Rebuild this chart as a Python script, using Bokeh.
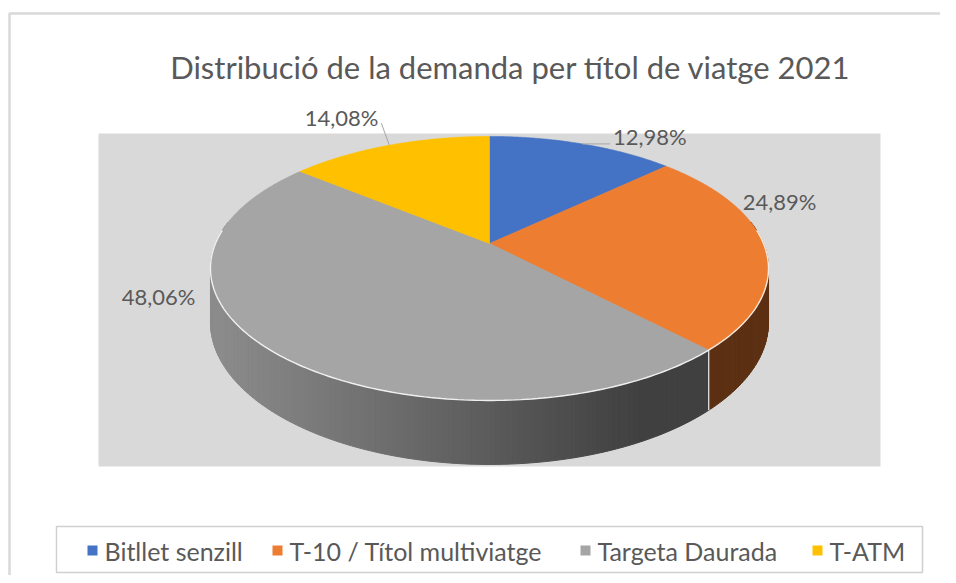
import numpy as np
from bokeh.plotting import figure
from bokeh.models import Range1d, ColumnDataSource
from bokeh.core.properties import value
from bokeh.embed import file_html
from bokeh.resources import INLINE

# ---------------- data ----------------
title = "Distribució de la demanda per títol de viatge 2021"
categories = ["Bitllet senzill", "T-10 / Títol multiviatge", "Targeta Daurada", "T-ATM"]
shares = [12.98, 24.89, 48.06, 14.08]
share_labels = ["12,98%", "24,89%", "48,06%", "14,08%"]

# ---------------- style / layout ----------------
colors = ["#4472C4", "#ED7D31", "#A5A5A5", "#FFC000"]
FONT = "Lato"
TXT = "#595959"
CX, CY = 489, 243            # pie apex on the page
A, B, C, H = 274, 127.3, 0.189, 51.9   # ellipse / perspective / depth
label_offsets = [(31, -7, "left"), (-22, -45, "left"), (-78, -55, "right"), (-11, -28, "right")]
leader = [(28, 0), None, None, (-8, -22)]
legend_marker_x = [92, 277, 585, 817]
legend_y = 550
W, HGT = 940, 575

def proj(phi, depth=0.0):
    phi = np.asarray(phi, dtype=float)
    u = np.sin(phi)
    v = -np.cos(phi)
    d = 1 - C * v
    return CX + A * u / d, CY + (B * v + depth) / d

def hexrgb(h):
    h = h.lstrip("#")
    return [int(h[i:i + 2], 16) for i in (0, 2, 4)]

def shade(hexc, x):
    f = float(np.interp(x, [215, 640], [0.85, 0.39]))
    r, g, b = hexrgb(hexc)
    return "#%02x%02x%02x" % (int(r * f), int(g * f), int(b * f))

fr = np.array(shares) / sum(shares)
ends = np.cumsum(fr) * 2 * np.pi
starts = np.concatenate([[0], ends[:-1]])
mids = (starts + ends) / 2

p = figure(width=W, height=HGT, x_range=Range1d(0, W), y_range=Range1d(HGT, 0),
           output_backend="svg", toolbar_location=None, min_border=0,
           x_axis_type=None, y_axis_type=None)
p.grid.visible = False
p.outline_line_color = None
p.background_fill_color = "white"
p.border_fill_color = "white"

# outer chart border
p.quad(left=9, right=1000, top=13, bottom=700, fill_alpha=0,
       line_color="#d9d9d9", line_width=2.5)
# plot area
p.quad(left=98, right=880, top=133, bottom=466, fill_color="#d9d9d9", line_color=None)

# ---------------- sides ----------------
front_lo, front_hi = np.deg2rad(80), np.deg2rad(280)
xs, ys, cs = [], [], []
step = np.deg2rad(1.0)
for i in range(len(shares)):
    a0, a1 = max(starts[i], front_lo), min(ends[i], front_hi)
    if a1 <= a0:
        continue
    n = max(2, int(np.ceil((a1 - a0) / step)) + 1)
    ph = np.linspace(a0, a1, n)
    tx, ty = proj(ph)
    bx, by = proj(ph, H)
    for k in range(n - 1):
        qx = [tx[k], tx[k + 1], bx[k + 1], bx[k]]
        qy = [ty[k], ty[k + 1], by[k + 1], by[k]]
        xs.append(qx)
        ys.append(qy)
        cs.append(shade(colors[i], np.mean(qx)))
p.patches(xs="xs", ys="ys", fill_color="c", line_color="c", line_width=1,
          source=ColumnDataSource(dict(xs=xs, ys=ys, c=cs)))

# seams between slices on the side
for e in ends:
    if front_lo < e < front_hi:
        tx, ty = proj([e])
        bx, by = proj([e], H)
        p.line([tx[0], bx[0]], [ty[0], by[0]], line_color="white", line_width=1.3, line_alpha=0.85)

# ---------------- top face ----------------
txs, tys = [], []
for i in range(len(shares)):
    n = max(3, int(np.ceil((ends[i] - starts[i]) / np.deg2rad(0.5))) + 1)
    ph = np.linspace(starts[i], ends[i], n)
    ex, ey = proj(ph)
    txs.append([CX] + list(ex))
    tys.append([CY] + list(ey))
p.patches(xs="xs", ys="ys", fill_color="c", line_color="c", line_width=0.6,
          source=ColumnDataSource(dict(xs=txs, ys=tys, c=colors)))

# rim highlight on the front edge
ph = np.linspace(np.deg2rad(84), np.deg2rad(276), 200)
rx, ry = proj(ph)
p.line(rx, ry, line_color="white", line_width=1.4, line_alpha=0.85)

# ---------------- data labels ----------------
mx, my = proj(mids)
for i in range(len(shares)):
    dx, dy, al = label_offsets[i]
    p.text(x=[mx[i] + dx], y=[my[i] + dy], text=[share_labels[i]],
           text_font=value(FONT), text_font_size=value("22px"), text_color=TXT,
           text_align=al, text_baseline="middle")
    if leader[i] is not None:
        lx, ly = leader[i]
        p.line([mx[i], mx[i] + lx], [my[i], my[i] + ly], line_color="#a6a6a6", line_width=1)

# ---------------- title ----------------
p.text(x=[510], y=[66], text=[title], text_font=value(FONT), text_font_size=value("31px"),
       text_color=TXT, text_align="center", text_baseline="middle")

# ---------------- legend ----------------
p.quad(left=56, right=922, top=526, bottom=572, fill_alpha=0, line_color="#d0d0d0", line_width=1.5)
p.scatter(x=legend_marker_x, y=[legend_y] * 4, marker="square", size=10,
          fill_color=colors, line_color=None)
p.text(x=[v + 12 for v in legend_marker_x], y=[legend_y] * 4, text=categories,
       text_font=value(FONT), text_font_size=value("25px"), text_color=TXT,
       text_align="left", text_baseline="middle")

open("out.html", "w").write(file_html(p, INLINE))
